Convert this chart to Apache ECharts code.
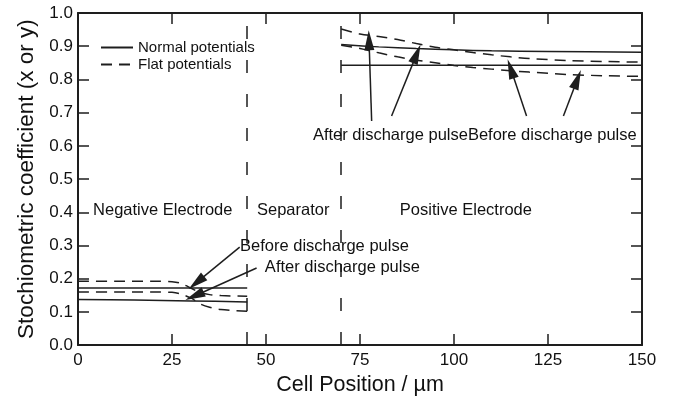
<!DOCTYPE html>
<html>
<head>
<meta charset="utf-8">
<script src="https://cdn.jsdelivr.net/npm/echarts@6/dist/echarts.min.js"></script>
<style>
  html, body { margin: 0; padding: 0; background: #fff; }
  #chart { width: 673px; height: 401px; }
</style>
</head>
<body>
<div id="chart"></div>
<script>
// ---------- data ----------
var xTicks = [0, 25, 50, 75, 100, 125, 150];
var yTicks = [0.0, 0.1, 0.2, 0.3, 0.4, 0.5, 0.6, 0.7, 0.8, 0.9, 1.0];

// Negative electrode (0 - 45 µm)
var negBeforeNormal = [[0, 0.172], [45, 0.172]];
var negAfterNormal  = [[0, 0.137], [15, 0.136], [30, 0.133], [45, 0.130]];
var negBeforeFlat   = [[0, 0.192], [10, 0.192], [20, 0.192], [25, 0.191], [27, 0.187], [30, 0.172], [32.5, 0.158], [35, 0.152], [38, 0.149], [45, 0.147]];
var negAfterFlat    = [[0, 0.160], [10, 0.160], [20, 0.160], [25, 0.159], [27, 0.155], [30, 0.142], [32.5, 0.124], [35, 0.114], [38, 0.107], [45, 0.102]];

// Positive electrode (70 - 150 µm)
var posBeforeNormal = [[70, 0.843], [150, 0.843]];
var posAfterNormal  = [[70, 0.905], [80, 0.898], [90, 0.893], [100, 0.889], [110, 0.886], [125, 0.884], [150, 0.882]];
var posAfterFlat    = [[70, 0.952], [75, 0.937], [80, 0.929], [85, 0.920], [90, 0.908], [95, 0.897], [100, 0.889], [105, 0.881], [110, 0.874], [115, 0.868], [120, 0.863], [130, 0.857], [140, 0.854], [150, 0.852]];
var posBeforeFlat   = [[70, 0.903], [75, 0.893], [80, 0.880], [85, 0.868], [90, 0.858], [95, 0.850], [100, 0.842], [105, 0.836], [110, 0.831], [115, 0.826], [120, 0.822], [130, 0.815], [140, 0.811], [150, 0.809]];

// Region boundaries (µm)
var boundaries = [45, 70];

// Annotation texts
var labelTexts = ['Negative Electrode', 'Separator', 'Positive Electrode',
                  'Before discharge pulse', 'After discharge pulse',
                  'After discharge pulse', 'Before discharge pulse'];
var labelX     = [4.0, 47.6, 85.6, 43.1, 49.7, 103.7, 103.7];
var labelY     = [0.405, 0.405, 0.405, 0.298, 0.233, 0.632, 0.632];
var labelSide  = ['right', 'right', 'right', 'right', 'right', 'left', 'right'];

// Arrows: [tailX, tailY] -> [headX, headY]
var arrowTails = [[43.0, 0.295], [47.5, 0.232], [78.1, 0.675], [83.4, 0.690], [119.3, 0.690], [129.1, 0.690]];
var arrowHeads = [[31.5, 0.188], [31.0, 0.148], [77.4, 0.918], [90.1, 0.877], [115.1, 0.832], [132.8, 0.800]];

// ---------- chart ----------
var ink = '#1e1e1e';
var font = 'Liberation Sans, Arial, Helvetica, sans-serif';
var solid = { color: ink, width: 1.5, type: 'solid' };
var dashed = { color: ink, width: 1.5, type: [11, 7] };

function lineSeries(name, data, style) {
  return {
    name: name, type: 'line', data: data, symbol: 'none', smooth: 0.3,
    lineStyle: style, itemStyle: { color: ink }, silent: true,
    xAxisIndex: 0, yAxisIndex: 0, z: 3
  };
}

var series = [
  lineSeries('Normal potentials', negBeforeNormal, solid),
  lineSeries('Normal potentials', negAfterNormal, solid),
  lineSeries('Normal potentials', posBeforeNormal, solid),
  lineSeries('Normal potentials', posAfterNormal, solid),
  lineSeries('Flat potentials', negBeforeFlat, dashed),
  lineSeries('Flat potentials', negAfterFlat, dashed),
  lineSeries('Flat potentials', posAfterFlat, dashed),
  lineSeries('Flat potentials', posBeforeFlat, dashed)
];

var boundaryLines = boundaries.map(function (b) {
  return [{ coord: [b, 0] }, { coord: [b, 1] }];
});
var arrowLines = arrowTails.map(function (t, i) {
  return [{ coord: t }, { coord: arrowHeads[i] }];
});

series.push({
  name: 'boundaries', type: 'line', data: [], symbol: 'none', silent: true,
  markLine: {
    silent: true, symbol: 'none', animation: false,
    label: { show: false },
    lineStyle: { color: ink, width: 1.5, type: [13, 21] },
    data: boundaryLines
  },
  z: 1
});
series.push({
  name: 'arrows', type: 'line', data: [], symbol: 'none', silent: true,
  markLine: {
    silent: true, symbol: ['none', 'triangle'], symbolSize: [10, 20],
    animation: false, label: { show: false },
    lineStyle: { color: ink, width: 1.5, type: 'solid' },
    itemStyle: { color: ink },
    data: arrowLines
  },
  z: 4
});
series.push({
  name: 'labels', type: 'scatter', symbol: 'circle', symbolSize: 0, silent: true,
  itemStyle: { opacity: 1 },
  data: labelTexts.map(function (t, i) {
    return {
      value: [labelX[i], labelY[i]],
      label: { show: true, formatter: t, position: labelSide[i], distance: 0 }
    };
  }),
  label: { color: '#111', fontSize: 16.5, fontFamily: font, opacity: 1 },
  z: 5
});

var axisLine = { show: true, onZero: false, lineStyle: { color: ink, width: 2 } };
var tickIn = { show: true, inside: true, length: 11, lineStyle: { color: ink, width: 1.5 } };

var option = {
  animation: false,
  backgroundColor: '#fff',
  grid: { left: 78, right: 31, top: 13, bottom: 55, containLabel: false },
  legend: {
    data: ['Normal potentials', 'Flat potentials'],
    orient: 'vertical', left: 96, top: 38,
    itemWidth: 32, itemHeight: 14, itemGap: 2, padding: [2, 4],
    backgroundColor: '#fff', selectedMode: false,
    itemStyle: { opacity: 0 },
    textStyle: { color: '#111', fontSize: 15, fontFamily: font }
  },
  xAxis: [{
    type: 'value', min: 0, max: 150, interval: 25, position: 'bottom',
    name: 'Cell Position / µm', nameLocation: 'middle', nameGap: 27,
    nameTextStyle: { color: '#111', fontSize: 21.5, fontFamily: font },
    axisLine: axisLine, axisTick: tickIn, splitLine: { show: false },
    axisLabel: { color: '#111', fontSize: 17, fontFamily: font, margin: 7,
      formatter: function (v) { return xTicks.indexOf(v) >= 0 ? String(v) : ''; } }
  }, {
    type: 'value', min: 0, max: 150, interval: 25, position: 'top',
    axisLine: axisLine, axisTick: tickIn, splitLine: { show: false },
    axisLabel: { show: false }
  }],
  yAxis: [{
    type: 'value', min: 0, max: 1, interval: 0.1, position: 'left',
    name: 'Stochiometric coefficient (x or y)', nameLocation: 'middle', nameGap: 37,
    nameTextStyle: { color: '#111', fontSize: 22.5, fontFamily: font },
    axisLine: axisLine, axisTick: tickIn, splitLine: { show: false },
    axisLabel: { color: '#111', fontSize: 17, fontFamily: font, margin: 5,
      formatter: function (v) { return v.toFixed(1); } }
  }, {
    type: 'value', min: 0, max: 1, interval: 0.1, position: 'right',
    axisLine: axisLine, axisTick: tickIn, splitLine: { show: false },
    axisLabel: { show: false }
  }],
  series: series
};

var chart = echarts.init(document.getElementById('chart'), null, { renderer: 'canvas' });
chart.setOption(option);
</script>
</body>
</html>
